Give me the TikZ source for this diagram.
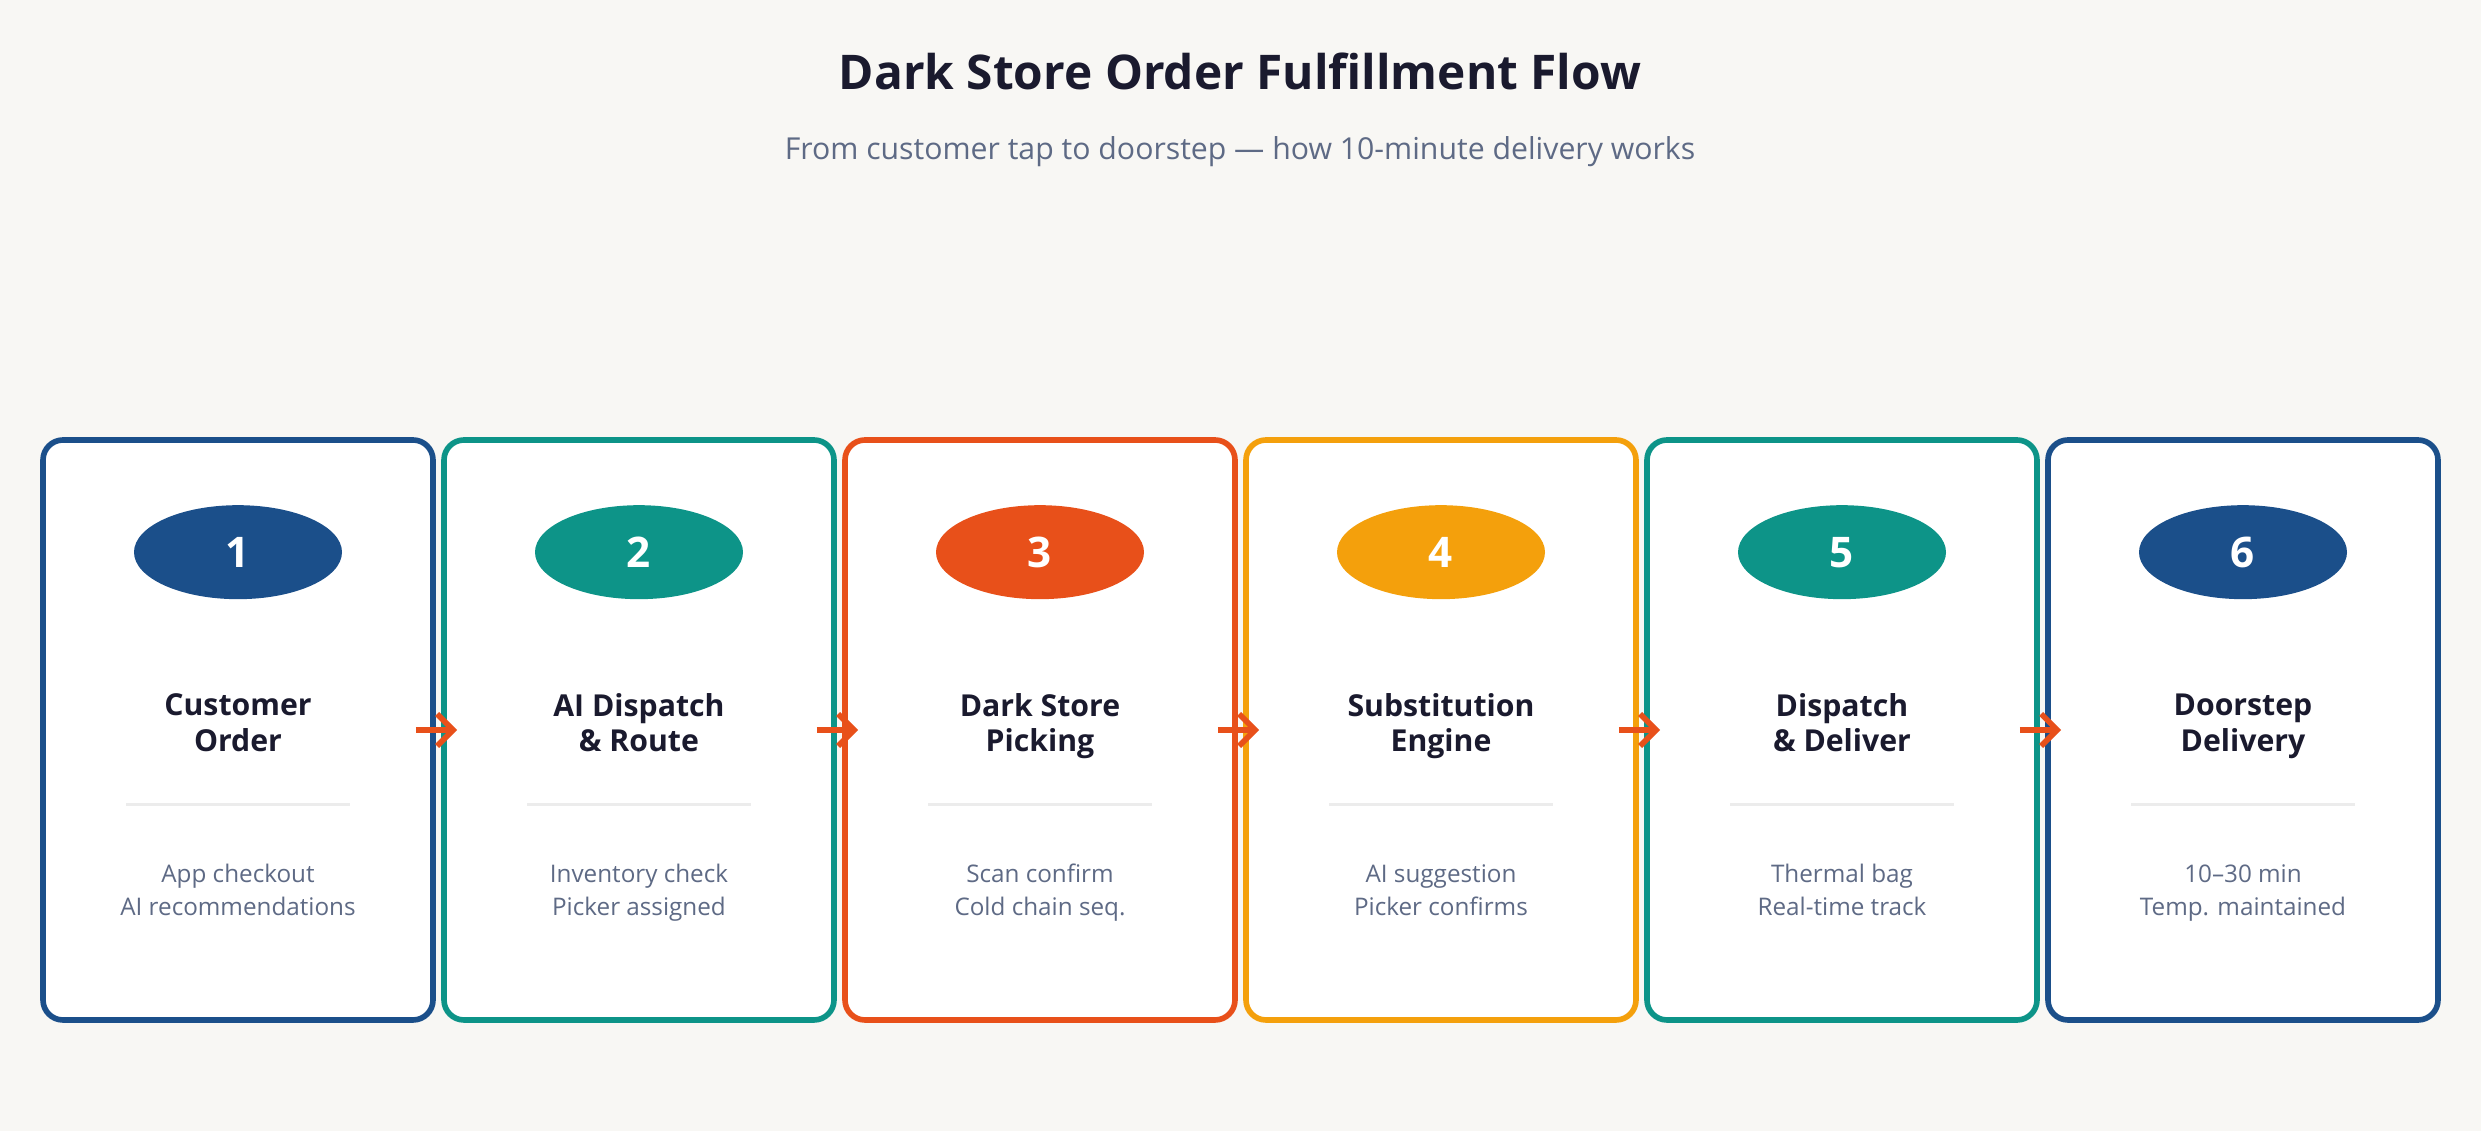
\documentclass[tikz,border=0pt]{standalone}
\usepackage{fontspec}
\setmainfont{Open Sans}
\usetikzlibrary{shapes, positioning, arrows.meta, calc}
\definecolor{bgc}{HTML}{F8F7F4}
\definecolor{ink}{HTML}{1A1A2E}
\definecolor{mute}{HTML}{5E6A85}
\definecolor{cblue}{HTML}{1B4F8A}
\definecolor{cteal}{HTML}{0D9488}
\definecolor{cred}{HTML}{E8501A}
\definecolor{camber}{HTML}{F4A00C}
\tikzset{
  card/.style={draw=#1, line width=1.6pt, fill=white, rounded corners=0.2cm,
    minimum width=3.9cm, minimum height=5.8cm, inner sep=0pt},
  badge/.style={ellipse, fill=#1, minimum width=2.08cm, minimum height=0.94cm,
    text=white, font=\bfseries\fontsize{12}{14}\selectfont},
  stage/.style={align=center, text=ink, font=\bfseries\fontsize{8.6}{8.6}\selectfont},
  note/.style={align=center, text=mute, font=\fontsize{6.9}{9.4}\selectfont},
  flow/.style={-{Straight Barb[length=1.6mm,width=3.2mm]}, draw=cred, line width=1.6pt}
}
\begin{document}
\begin{tikzpicture}
	\fill[bgc] (0,0) rectangle (24.81,11.31);
	\useasboundingbox (0,0) rectangle (24.81,11.31);
	\node[text=ink, font=\bfseries\fontsize{13.6}{16}\selectfont] (title) at (12.4,10.6) {Dark Store Order Fulfillment Flow};
	\node[text=mute, font=\fontsize{8.6}{11}\selectfont] (sub) at (12.4,9.79) {From customer tap to doorstep — how 10-minute delivery works};
	%
	\foreach \i/\col/\ta/\tb/\da/\db in {
	    1/cblue/Customer/Order/App checkout/AI recommendations,
	    2/cteal/AI Dispatch/\& Route/Inventory check/Picker assigned,
	    3/cred/Dark Store/Picking/Scan confirm/Cold chain seq.,
	    4/camber/Substitution/Engine/AI suggestion/Picker confirms,
	    5/cteal/Dispatch/\& Deliver/Thermal bag/Real-time track,
	    6/cblue/Doorstep/Delivery/10–30 min/Temp. maintained}{
		\node[card=\col] (c\i) at ({2.38+(\i-1)*4.01},4.01) {};
		\node[badge=\col] (n\i) at ($(c\i.north)+(0,-1.15)$) {\i};
		\node[stage] (t\i) at ($(c\i.north)+(0,-2.9)$) {\ta\strut\\\tb\strut};
		\draw[draw=gray!15, line width=0.8pt] ($(c\i.north)+(-1.12,-3.67)$) coordinate (la\i)
		  -- ($(c\i.north)+(1.12,-3.67)$) coordinate (lb\i);
		\node[note] (d\i) at ($(c\i.north)+(0,-4.55)$) {\da\strut\\\db\strut};
	}
	%
	\foreach \i [evaluate=\i as \j using int(\i+1)] in {1,...,5}{
		\coordinate (p\i) at ($(c\i.east)+(-0.2,0)$);
		\coordinate (q\i) at ($(c\j.west)+(0.16,0)$);
		\draw[flow] (p\i) -- (q\i);
	}
\end{tikzpicture}
\end{document}
